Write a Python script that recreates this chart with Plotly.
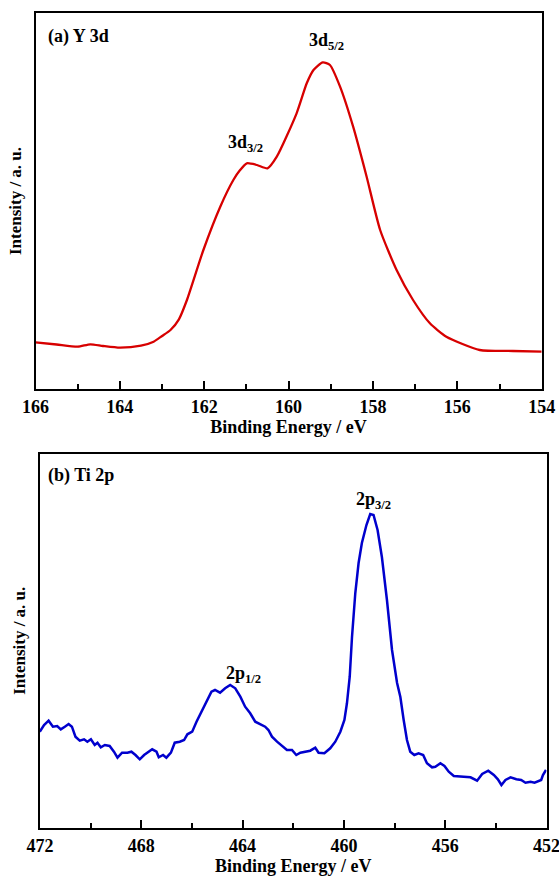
import plotly.graph_objects as go

# ---- Panel (a): Y 3d ----
y3d_energy = [166.0, 165.5, 165.0, 164.7, 164.4, 164.0, 163.5, 163.2, 163.0, 162.8,
              162.6, 162.41, 162.02, 161.62, 161.31, 161.15, 160.99, 160.75, 160.5,
              160.28, 159.81, 159.57, 159.41, 159.19, 159.02, 158.78, 158.47, 158.15,
              157.83, 157.44, 157.05, 156.65, 156.26, 155.47, 154.68, 154.0]
y3d_intensity = [46.7, 44.5, 42.3, 44.7, 43.0, 41.3, 43.3, 47.3, 53.0, 59.0,
                 69.7, 89.0, 139.0, 182.3, 209.0, 219.0, 225.7, 224.0, 220.7,
                 232.3, 275.7, 305.7, 319.0, 326.7, 324.0, 302.3, 262.3, 212.3,
                 159.0, 119.0, 89.0, 65.7, 52.3, 39.0, 38.0, 37.3]

# ---- Panel (b): Ti 2p ----
ti2p_energy = [472.01, 471.84, 471.66, 471.49, 471.32, 471.18, 471.02, 470.87, 470.74, 470.60,
               470.43, 470.26, 470.13, 469.99, 469.84, 469.73, 469.60, 469.44, 469.25, 469.08,
               468.94, 468.76, 468.55, 468.39, 468.23, 468.06, 467.89, 467.70, 467.57, 467.40,
               467.31, 467.14, 467.01, 466.83, 466.68, 466.48, 466.31, 466.18, 465.99, 465.82,
               465.62, 465.43, 465.23, 465.09, 464.89, 464.69, 464.49, 464.29, 464.09, 463.90,
               463.70, 463.50, 463.30, 463.11, 462.98, 462.84, 462.64, 462.45, 462.25, 462.05,
               461.88, 461.72, 461.53, 461.33, 461.13, 461.00, 460.77, 460.54, 460.34, 460.14,
               459.98, 459.88, 459.77, 459.68, 459.55, 459.42, 459.29, 459.11, 458.96, 458.83,
               458.67, 458.50, 458.30, 458.10, 457.90, 457.77, 457.64, 457.51, 457.38, 457.22,
               457.05, 456.87, 456.72, 456.52, 456.39, 456.19, 456.03, 455.86, 455.66, 455.47,
               455.27, 455.00, 454.74, 454.54, 454.30, 454.08, 453.92, 453.78, 453.62, 453.42,
               453.19, 453.00, 452.83, 452.63, 452.47, 452.21, 452.14, 452.02]
ti2p_intensity = [96.3, 103.0, 107.3, 101.3, 102.0, 98.7, 101.3, 104.0, 101.3, 91.3,
                  87.3, 88.7, 86.3, 88.7, 83.0, 85.3, 80.7, 83.0, 82.0, 76.3,
                  70.3, 75.3, 75.3, 76.3, 73.0, 68.7, 73.0, 76.3, 78.7, 76.3,
                  70.7, 73.0, 70.3, 75.3, 85.3, 86.3, 88.0, 93.7, 96.3, 106.3,
                  116.3, 124.7, 136.3, 138.0, 135.3, 139.7, 143.0, 139.7, 131.3, 121.3,
                  114.7, 106.3, 104.0, 101.3, 98.0, 91.3, 86.3, 82.0, 78.0, 78.0,
                  73.0, 75.3, 76.3, 77.3, 80.3, 75.3, 74.7, 79.7, 86.3, 96.3,
                  108.0, 124.7, 151.3, 191.0, 235.0, 265.0, 285.0, 303.0, 314.0, 313.0,
                  298.0, 271.0, 228.0, 178.0, 145.0, 131.0, 108.0, 88.0, 76.3, 73.0,
                  74.7, 73.0, 64.7, 60.7, 61.3, 64.7, 62.0, 56.3, 52.0, 52.0,
                  51.3, 50.7, 47.3, 54.0, 57.3, 53.0, 48.7, 43.0, 48.0, 50.7,
                  48.7, 48.0, 45.3, 46.3, 45.3, 48.0, 53.0, 58.0]

top_ticks = [166, 164, 162, 160, 158, 156, 154]
bot_ticks = [472, 468, 464, 460, 456, 452]

W, H = 559, 877
FONT = "Liberation Serif"

fig = go.Figure()
fig.add_trace(go.Scatter(x=y3d_energy, y=y3d_intensity, mode="lines",
                         line=dict(color="rgb(215,0,0)", width=2.3, shape="spline", smoothing=0.6),
                         xaxis="x", yaxis="y", showlegend=False))
fig.add_trace(go.Scatter(x=ti2p_energy, y=ti2p_intensity, mode="lines",
                         line=dict(color="rgb(0,0,205)", width=2.5),
                         xaxis="x2", yaxis="y2", showlegend=False))

tickfont = dict(family=FONT, size=18, color="black", weight="bold")
titlefont = dict(family=FONT, size=18, color="black", weight="bold")
ytitlefont = dict(family=FONT, size=17, color="black", weight="bold")

common_x = dict(showline=True, linecolor="black", linewidth=2, mirror=True,
                ticks="inside", ticklen=8, tickwidth=2, tickcolor="black",
                showgrid=False, zeroline=False, tickfont=tickfont,
                ticklabeloverflow="allow", automargin=False)
common_y = dict(showline=True, linecolor="black", linewidth=2, mirror=True,
                ticks="", showticklabels=False, showgrid=False, zeroline=False,
                automargin=False)

fig.update_layout(
    width=W, height=H,
    margin=dict(l=0, r=0, t=0, b=0),
    paper_bgcolor="white", plot_bgcolor="white",
    xaxis=dict(common_x, domain=[35.5 / W, 541.7 / W], range=[166, 154],
               tickvals=top_ticks, ticktext=[str(t) for t in top_ticks],
               minor=dict(ticks="inside", ticklen=5, tickwidth=2, tickcolor="black", dtick=1),
               title=dict(text="Binding Energy / eV", font=titlefont, standoff=2),
               anchor="y"),
    yaxis=dict(common_y, domain=[1 - 389 / H, 1 - 13 / H], range=[0, 376],
               title=dict(text="Intensity / a. u.", font=ytitlefont, standoff=8),
               anchor="x"),
    xaxis2=dict(common_x, domain=[40 / W, 546.5 / W], range=[472, 452],
                tickvals=bot_ticks, ticktext=[str(t) for t in bot_ticks],
                minor=dict(ticks="inside", ticklen=5, tickwidth=2, tickcolor="black", dtick=2),
                title=dict(text="Binding Energy / eV", font=titlefont, standoff=2),
                anchor="y2"),
    yaxis2=dict(common_y, domain=[1 - 828 / H, 1 - 453.5 / H], range=[0, 374.5],
                title=dict(text="Intensity / a. u.", font=ytitlefont, standoff=8),
                anchor="x2"),
)

ann_font = dict(family=FONT, size=18, color="black", weight="bold")
annotations = [
    dict(text="(a) Y 3d", xref="paper", yref="paper", x=46 / W, y=1 - 36 / H,
         xanchor="left", yanchor="middle", showarrow=False, font=ann_font),
    dict(text="(b) Ti 2p", xref="paper", yref="paper", x=46 / W, y=1 - 475 / H,
         xanchor="left", yanchor="middle", showarrow=False, font=ann_font),
    dict(text="3d<sub>3/2</sub>", xref="paper", yref="paper", x=226 / W, y=1 - 143 / H,
         xanchor="left", yanchor="middle", showarrow=False, font=ann_font),
    dict(text="3d<sub>5/2</sub>", xref="paper", yref="paper", x=307 / W, y=1 - 42 / H,
         xanchor="left", yanchor="middle", showarrow=False, font=ann_font),
    dict(text="2p<sub>1/2</sub>", xref="paper", yref="paper", x=224 / W, y=1 - 674 / H,
         xanchor="left", yanchor="middle", showarrow=False, font=ann_font),
    dict(text="2p<sub>3/2</sub>", xref="paper", yref="paper", x=354 / W, y=1 - 501 / H,
         xanchor="left", yanchor="middle", showarrow=False, font=ann_font),
]
fig.update_layout(annotations=annotations)

fig.write_html("out.html")
